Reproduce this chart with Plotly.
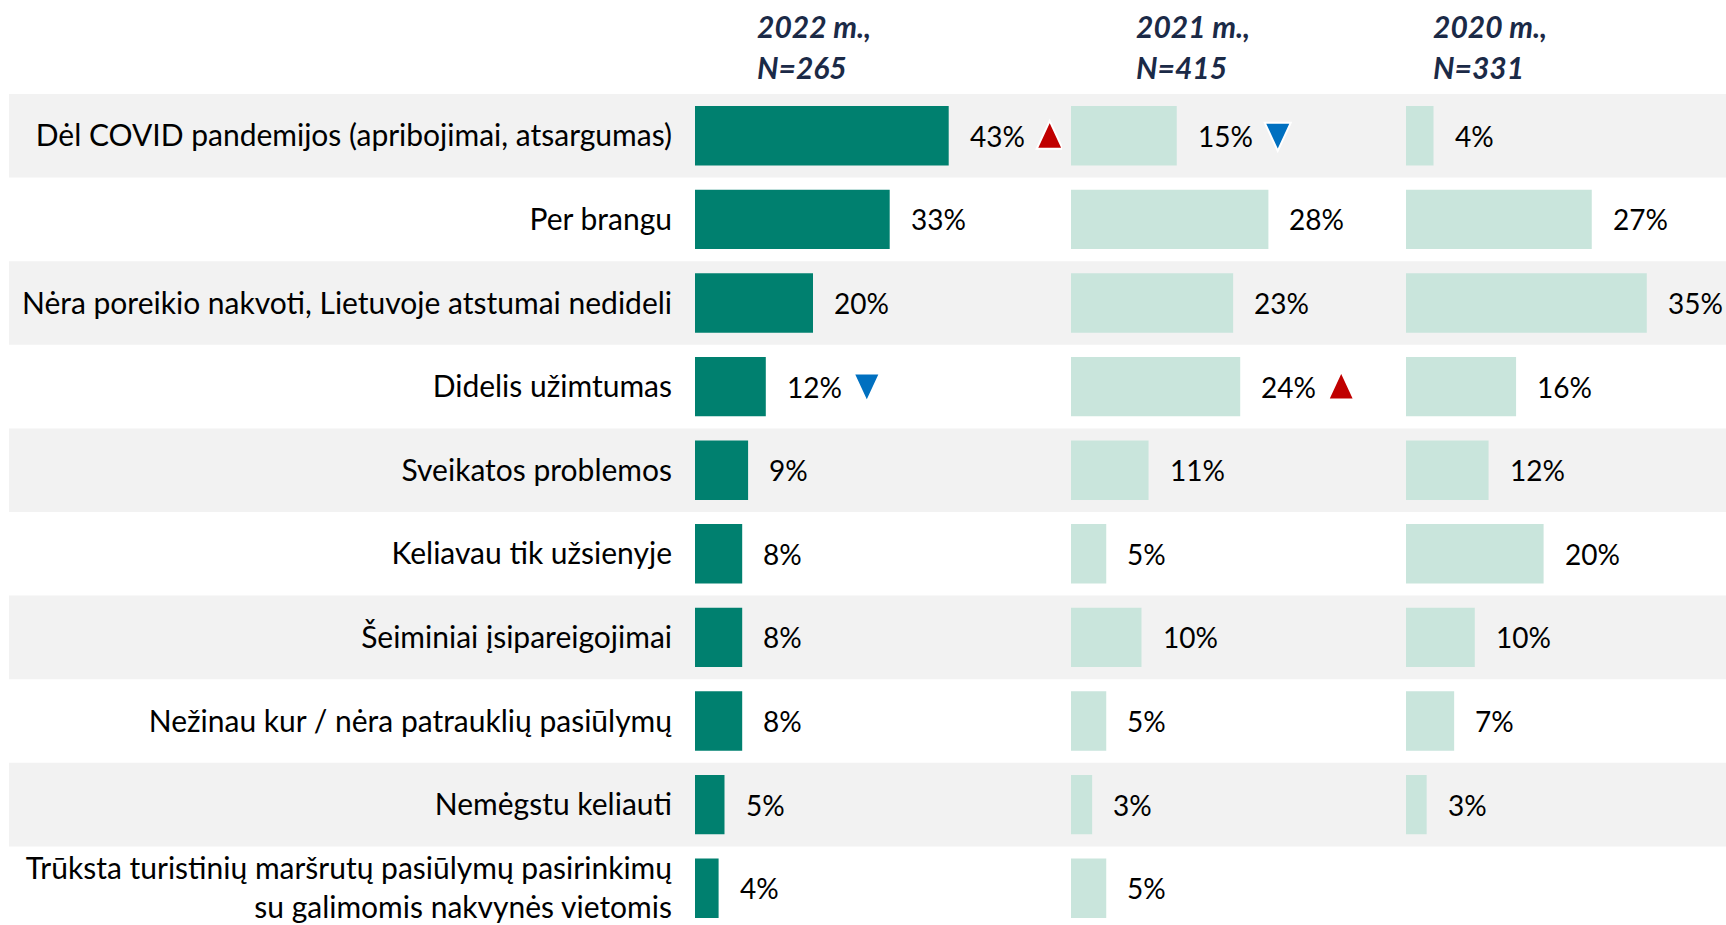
import plotly.graph_objects as go

categories = [
    "Dėl COVID pandemijos (apribojimai, atsargumas)",
    "Per brangu",
    "Nėra poreikio nakvoti, Lietuvoje atstumai nedideli",
    "Didelis užimtumas",
    "Sveikatos problemos",
    "Keliavau tik užsienyje",
    "Šeiminiai įsipareigojimai",
    "Nežinau kur / nėra patrauklių pasiūlymų",
    "Nemėgstu keliauti",
    "Trūksta turistinių maršrutų pasiūlymų pasirinkimų<br>su galimomis nakvynės vietomis",
]
v2022 = [43, 33, 20, 12, 9, 8, 8, 8, 5, 4]
v2021 = [15, 28, 23, 24, 11, 5, 10, 5, 3, 5]
v2020 = [4, 27, 35, 16, 12, 20, 10, 7, 3, None]
# significance markers: "up" / "down" / None
sig2022 = ["up", None, None, "down", None, None, None, None, None, None]
sig2021 = ["down", None, None, "up", None, None, None, None, None, None]
headers = [("2022 m.,", "N=265"), ("2021 m.,", "N=415"), ("2020 m.,", "N=331")]

W, H = 1726, 925
DARK = "#00806f"
LIGHT = "#c9e5dc"
FONT = "Lato"


def px_x(x):
    return x / W


def px_y(y):
    return 1 - y / H


# panel layout in window pixels: (left, right, px per %)
panels = [(695, 1062, 5.9), (1071, 1400, 7.05), (1406, 1726, 6.88)]
series = [v2022, v2021, v2020]
colors = [DARK, LIGHT, LIGHT]
sigs = [sig2022, sig2021, None]

rows = list(range(len(categories)))
row_h = 83.6
top = 94
y_top = -0.5 - top / row_h
y_bot = -0.5 + (H - top) / row_h

fig = go.Figure()
annotations = []
shapes = []

# alternating row bands
for i in rows:
    if i % 2 == 0:
        shapes.append(dict(
            type="rect", xref="paper", yref="y", x0=px_x(9), x1=1, y0=i - 0.5, y1=i + 0.5,
            fillcolor="#f2f2f2", line=dict(width=0), layer="below",
        ))

tri_paths = {
    "up": ("#c00000", "M 88,-13 L 114,-13 L 101,15 Z"),
    "down": ("#0070c0", "M 88,13 L 114,13 L 101,-15 Z"),
}

for k, (vals, col) in enumerate(zip(series, colors)):
    xa = "x" if k == 0 else f"x{k + 1}"
    fig.add_trace(go.Bar(
        x=vals, y=rows, orientation="h", marker=dict(color=col, line=dict(width=0)),
        width=0.71, xaxis=xa, yaxis="y", showlegend=False, hoverinfo="skip",
    ))
    for i, v in enumerate(vals):
        if v is None:
            continue
        annotations.append(dict(
            x=v, y=i, xref=xa, yref="y", text=f"{v}%", showarrow=False,
            xanchor="left", xshift=19, font=dict(family=FONT, size=28, color="#000000"),
        ))
        if sigs[k] is not None and sigs[k][i] is not None:
            color, path = tri_paths[sigs[k][i]]
            shapes.append(dict(
                type="path", xref=xa, yref="y", xsizemode="pixel", ysizemode="pixel",
                xanchor=v, yanchor=i, path=path, fillcolor=color,
                line=dict(color="white", width=2), layer="above",
            ))

# header annotations
for k, (l1, l2) in enumerate(headers):
    hx = px_x([755, 1134, 1431][k])
    for txt, yy in ((l1, 26), (l2, 67)):
        annotations.append(dict(
            x=hx, y=px_y(yy), xref="paper", yref="paper", text=f"<b><i>{txt}</i></b>",
            showarrow=False, xanchor="left", yanchor="middle",
            font=dict(family=FONT, size=30, color="#1b2a47"),
        ))

layout_axes = {}
for k, (left, right, scale) in enumerate(panels):
    name = "xaxis" if k == 0 else f"xaxis{k + 1}"
    layout_axes[name] = dict(
        domain=[px_x(left), px_x(right)], range=[0, (right - left) / scale],
        visible=False, fixedrange=True, anchor="y",
    )

fig.update_layout(
    width=W, height=H,
    margin=dict(l=0, r=0, t=0, b=0),
    paper_bgcolor="white", plot_bgcolor="rgba(0,0,0,0)",
    barmode="overlay",
    yaxis=dict(
        domain=[0, 1], range=[y_bot, y_top], tickvals=rows, ticktext=categories,
        showgrid=False, zeroline=False, showline=False, ticks="",
        ticklabelstandoff=22, automargin=False, fixedrange=True,
        tickfont=dict(family=FONT, size=30, color="#000000"),
    ),
    annotations=annotations,
    shapes=shapes,
    **layout_axes,
)

# drop the default page margin so the figure fills the window
fig.write_html(
    "out.html",
    config={"displayModeBar": False},
    post_script="document.body.style.margin='0';document.body.style.overflow='hidden';",
)
